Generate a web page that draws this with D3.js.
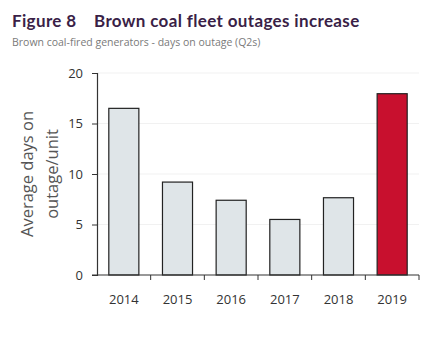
<!DOCTYPE html>
<html>
<head>
<meta charset="utf-8">
<script src="https://cdn.jsdelivr.net/npm/d3@7"></script>
<style>
  body { margin: 0; background: #fff; }
  svg { display: block; font-family: "Open Sans", "Noto Sans", sans-serif; }
</style>
</head>
<body>
<div id="chart"></div>
<script>
// values
var years = ["2014", "2015", "2016", "2017", "2018", "2019"];
var daysOnOutage = [16.5, 9.2, 7.4, 5.5, 7.65, 17.95];
var yTicks = [0, 5, 10, 15, 20];

var width = 429, height = 340;
var margin = { top: 73, right: 10, bottom: 65, left: 97 };

var greyFill = '#dfe5e8';
var redFill = '#c8102e';
var titleColor = '#3a1f47';

var svg = d3.select("#chart").append("svg")
    .attr("width", width)
    .attr("height", height);

// title + subtitle
svg.append("text")
    .attr("x", 12).attr("y", 27)
    .attr("fill", titleColor)
    .style("font-family", "Lato, sans-serif")
    .style("font-weight", "bold")
    .style("font-size", "17px")
    .style("letter-spacing", "0.35px")
    .text("Figure 8");
svg.append("text")
    .attr("x", 94).attr("y", 27)
    .attr("fill", titleColor)
    .style("font-family", "Lato, sans-serif")
    .style("font-weight", "bold")
    .style("font-size", "17px")
    .style("letter-spacing", "0.35px")
    .text("Brown coal fleet outages increase");
svg.append("text")
    .attr("x", 12).attr("y", 46)
    .attr("fill", "#7a7a7a")
    .style("font-size", "10.5px")
    .text("Brown coal-fired generators - days on outage (Q2s)");

var x = d3.scaleBand()
    .domain(years)
    .range([margin.left, width - margin.right])
    .paddingInner(0.44)
    .paddingOuter(0.22);

var y = d3.scaleLinear()
    .domain([0, 20])
    .range([height - margin.bottom, margin.top]);

// faint gridlines
svg.append("g")
    .selectAll("line")
    .data(yTicks.slice(1))
    .enter().append("line")
    .attr("x1", margin.left)
    .attr("x2", width - margin.right)
    .attr("y1", function(d) { return y(d); })
    .attr("y2", function(d) { return y(d); })
    .attr("stroke", "#f1f1f1")
    .attr("stroke-width", 1);

// bars
var data = years.map(function(yr, i) { return { year: yr, value: daysOnOutage[i] }; });
svg.append("g")
    .selectAll("rect")
    .data(data)
    .enter().append("rect")
    .attr("x", function(d) { return x(d.year); })
    .attr("y", function(d) { return y(d.value); })
    .attr("width", x.bandwidth())
    .attr("height", function(d) { return y(0) - y(d.value); })
    .attr("fill", function(d) { return d.year === "2019" ? redFill : greyFill; })
    .attr("stroke", "#222")
    .attr("stroke-width", 1.2);

// y axis
var yAxis = svg.append("g")
    .attr("transform", "translate(" + margin.left + ",0)")
    .call(d3.axisLeft(y).tickValues(yTicks).tickSize(5).tickPadding(9));
yAxis.select(".domain").attr("stroke", "#333").attr("stroke-width", 1.2);
yAxis.selectAll(".tick line").attr("stroke", "#333");
yAxis.selectAll("text")
    .attr("fill", "#333")
    .style("font-size", "13px")
    .style("font-family", "'Open Sans', sans-serif");

// x axis with ticks at band boundaries
var xAxisG = svg.append("g")
    .attr("transform", "translate(0," + y(0) + ")");
xAxisG.append("line")
    .attr("x1", margin.left - 5)
    .attr("x2", width - margin.right)
    .attr("stroke", "#333")
    .attr("stroke-width", 1.2);
var step = x.step();
var bounds = d3.range(1, years.length + 1).map(function(i) {
    return x(years[0]) - x.step() * x.paddingOuter() + i * step;
});
xAxisG.selectAll("line.tk")
    .data(bounds)
    .enter().append("line")
    .attr("class", "tk")
    .attr("x1", function(d) { return d; })
    .attr("x2", function(d) { return d; })
    .attr("y1", 0).attr("y2", 5)
    .attr("stroke", "#333");
xAxisG.selectAll("text")
    .data(years)
    .enter().append("text")
    .attr("x", function(d) { return x(d) + x.bandwidth() / 2; })
    .attr("y", 29)
    .attr("text-anchor", "middle")
    .attr("fill", "#333")
    .style("font-size", "13px")
    .text(function(d) { return d; });

// y axis title
var yTitle = svg.append("text")
    .attr("transform", "translate(34," + y(10) + ") rotate(-90)")
    .attr("text-anchor", "middle")
    .attr("fill", "#555")
    .style("font-size", "16.5px");
yTitle.append("tspan").attr("x", 0).attr("dy", "-0.05em").text("Average days on");
yTitle.append("tspan").attr("x", 0).attr("dy", "1.5em").text("outage/unit");
</script>
</body>
</html>
